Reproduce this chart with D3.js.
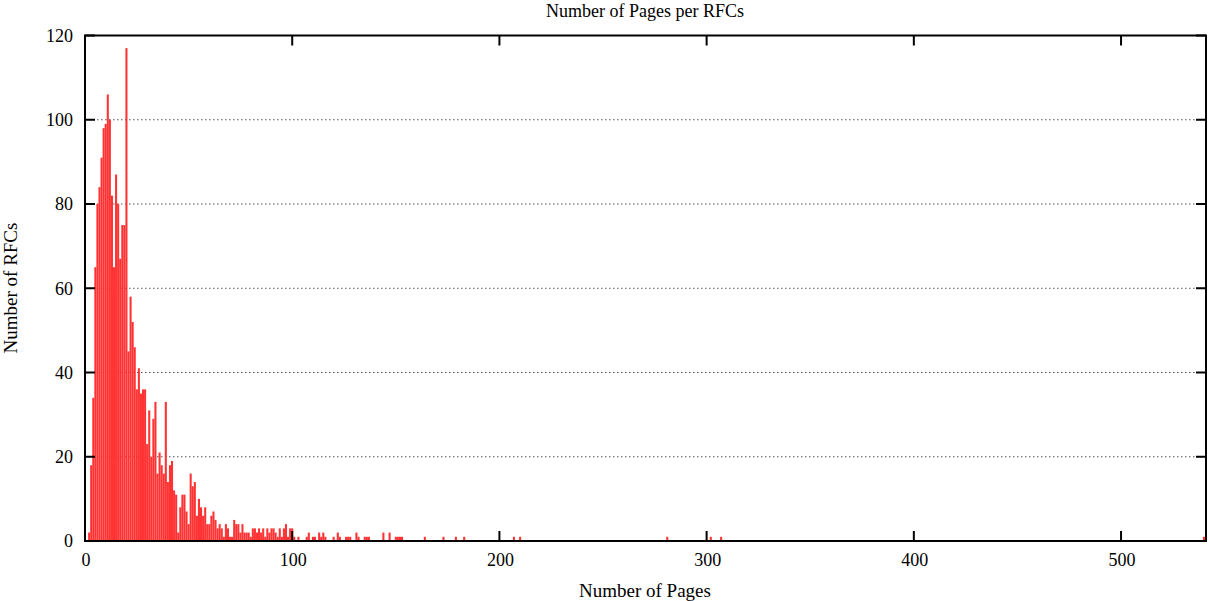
<!DOCTYPE html>
<html>
<head>
<meta charset="utf-8">
<script src="https://cdn.jsdelivr.net/npm/d3@7"></script>
<style>
  body { margin: 0; background: #fff; }
  svg { display: block; }
  text { font-family: "Liberation Serif", "Times New Roman", serif; fill: #000; }
</style>
</head>
<body>
<svg width="1208" height="601"></svg>
<script>
// pages 1..101, one count per page
const denseCounts = [
  0, 2, 18, 34, 65, 80, 84, 91, 98, 99, 106,
  100, 82, 65, 87, 80, 67, 75, 75, 117, 45,
  58, 52, 46, 36, 41, 35, 36, 36, 23, 31,
  20, 29, 33, 16, 21, 18, 16, 33, 14, 18,
  19, 12, 11, 2, 8, 11, 11, 7, 4, 16,
  13, 14, 6, 10, 8, 6, 8, 4, 4, 6,
  7, 5, 3, 4, 3, 1, 4, 3, 1, 1,
  5, 4, 4, 2, 4, 2, 2, 2, 1, 3,
  3, 2, 3, 2, 3, 1, 3, 2, 3, 3,
  2, 1, 3, 1, 3, 4, 1, 3, 3, 1
];
// sparse tail
const tailPages = [103, 107, 108, 110, 111, 113, 114, 115, 116, 120, 122, 123, 126, 127, 128,
  131, 132, 135, 136, 137, 144, 147, 150, 151, 152, 153, 164, 173, 179, 183,
  207, 210, 281, 302, 307, 540];
const tailCounts = [1, 1, 2, 1, 1, 2, 1, 2, 1, 1, 2, 1, 1, 1, 1,
  2, 1, 1, 1, 1, 2, 2, 1, 1, 1, 1, 1, 1, 1, 1,
  1, 1, 1, 1, 1, 1];

const xTicks = [0, 100, 200, 300, 400, 500];
const yTicks = [0, 20, 40, 60, 80, 100, 120];

const data = denseCounts.map((c, i) => ({ page: i + 1, count: c }))
  .concat(tailPages.map((p, i) => ({ page: p, count: tailCounts[i] })))
  .filter(d => d.count > 0);

const svg = d3.select("svg");
const plotLeft = 85, plotRight = 1206, plotTop = 35.5, plotBottom = 541;

const x = d3.scaleLinear().domain([0, 541]).range([plotLeft, plotRight]);
const y = d3.scaleLinear().domain([0, 120]).range([plotBottom, plotTop]);
const bw = x(1) - x(0);

// grid
svg.append("g")
  .selectAll("line")
  .data(yTicks.filter(t => t > 0 && t < 120))
  .enter().append("line")
  .attr("x1", plotLeft).attr("x2", plotRight)
  .attr("y1", d => y(d)).attr("y2", d => y(d))
  .attr("stroke", "#555")
  .attr("stroke-width", 1)
  .attr("stroke-dasharray", "1.5,2.5");

// bars
svg.append("g")
  .selectAll("rect")
  .data(data)
  .enter().append("rect")
  .attr("x", d => x(d.page) - bw / 2)
  .attr("width", bw)
  .attr("y", d => y(d.count))
  .attr("height", d => y(0) - y(d.count))
  .attr("fill", "#ff3333");

// ticks (inward, mirrored)
const tickLen = 10;
const ticks = svg.append("g").attr("stroke", "#000").attr("stroke-width", 2);
yTicks.forEach(t => {
  ticks.append("line").attr("x1", plotLeft).attr("x2", plotLeft + tickLen).attr("y1", y(t)).attr("y2", y(t));
  ticks.append("line").attr("x1", plotRight).attr("x2", plotRight - tickLen).attr("y1", y(t)).attr("y2", y(t));
});
xTicks.forEach(t => {
  ticks.append("line").attr("x1", x(t)).attr("x2", x(t)).attr("y1", plotBottom).attr("y2", plotBottom - tickLen);
  ticks.append("line").attr("x1", x(t)).attr("x2", x(t)).attr("y1", plotTop).attr("y2", plotTop + tickLen);
});

// border
svg.append("rect")
  .attr("x", plotLeft).attr("y", plotTop)
  .attr("width", plotRight - plotLeft).attr("height", plotBottom - plotTop)
  .attr("fill", "none")
  .attr("stroke", "#000")
  .attr("stroke-width", 2);

// tick labels
svg.append("g")
  .selectAll("text")
  .data(yTicks)
  .enter().append("text")
  .attr("x", 73)
  .attr("y", d => y(d))
  .attr("dy", "0.35em")
  .attr("text-anchor", "end")
  .attr("font-size", 18)
  .text(d => d);

svg.append("g")
  .selectAll("text")
  .data(xTicks)
  .enter().append("text")
  .attr("x", d => x(d) + 1)
  .attr("y", 560)
  .attr("dy", "0.35em")
  .attr("text-anchor", "middle")
  .attr("font-size", 18)
  .text(d => d);

// titles
svg.append("text")
  .attr("x", 645).attr("y", 17)
  .attr("text-anchor", "middle").attr("font-size", 18)
  .text("Number of Pages per RFCs");

svg.append("text")
  .attr("x", 645).attr("y", 590).attr("dy", "0.35em")
  .attr("text-anchor", "middle").attr("font-size", 19)
  .text("Number of Pages");

svg.append("text")
  .attr("transform", "translate(10,288) rotate(-90)")
  .attr("dy", "0.35em")
  .attr("text-anchor", "middle").attr("font-size", 19)
  .text("Number of RFCs");
</script>
</body>
</html>
